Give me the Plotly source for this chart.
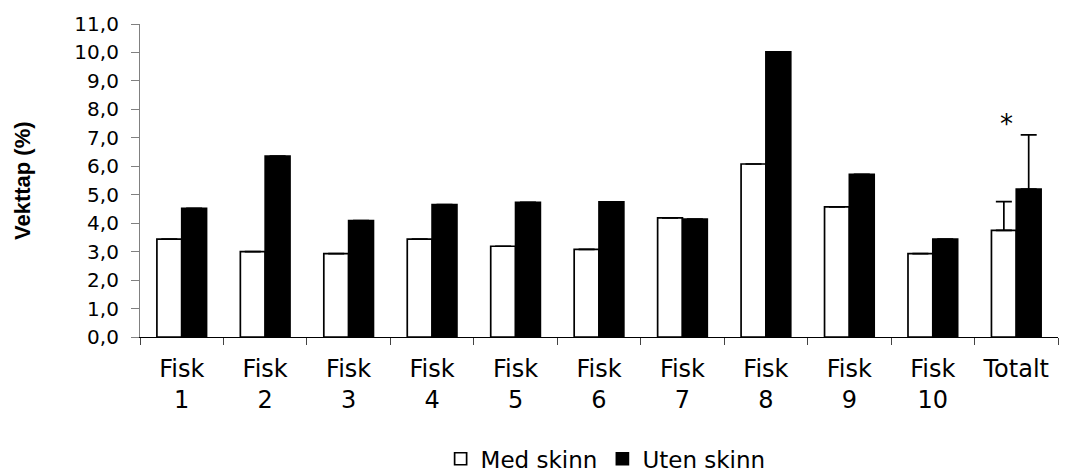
import plotly.graph_objects as go

# Weight loss per fish, with and without skin
categories = ["Fisk 1", "Fisk 2", "Fisk 3", "Fisk 4", "Fisk 5", "Fisk 6",
              "Fisk 7", "Fisk 8", "Fisk 9", "Fisk 10", "Totalt"]
tick_labels = ["Fisk<br>1", "Fisk<br>2", "Fisk<br>3", "Fisk<br>4", "Fisk<br>5",
               "Fisk<br>6", "Fisk<br>7", "Fisk<br>8", "Fisk<br>9", "Fisk<br>10",
               "Totalt"]
med_skinn = [3.44, 3.00, 2.93, 3.44, 3.19, 3.08, 4.19, 6.08, 4.57, 2.93, 3.75]
uten_skinn = [4.52, 6.36, 4.09, 4.65, 4.73, 4.75, 4.14, 10.02, 5.72, 3.44, 5.20]
# standard deviation, only shown for the total
med_sd = [None] * 10 + [1.01]
uten_sd = [None] * 10 + [1.90]
low_sd = [None] * 10 + [0]

FONT = "DejaVu Sans"

fig = go.Figure()
fig.add_trace(go.Bar(
    x=categories, y=med_skinn, name="Med skinn",
    marker=dict(color="white", line=dict(color="black", width=1.7)),
    error_y=dict(type="data", symmetric=False, array=med_sd, arrayminus=low_sd,
                 color="black", thickness=1.7, width=8),
))
fig.add_trace(go.Bar(
    x=categories, y=uten_skinn, name="Uten skinn",
    marker=dict(color="black", line=dict(color="black", width=1.7)),
    error_y=dict(type="data", symmetric=False, array=uten_sd, arrayminus=low_sd,
                 color="black", thickness=1.7, width=8),
))

fig.add_annotation(x="Totalt", y=7.5, text="*", showarrow=False, xshift=-10,
                   font=dict(family=FONT, size=26, color="black"))
fig.add_annotation(xref="paper", yref="paper", x=-0.128, y=0.5,
                   text="<b>Vekttap (%)</b>", textangle=-90, showarrow=False,
                   xanchor="center", yanchor="middle",
                   font=dict(family="Liberation Sans", size=22, color="black"))

fig.update_layout(
    width=1070, height=472,
    margin=dict(l=140, r=12, t=24, b=135),
    paper_bgcolor="white", plot_bgcolor="white",
    barmode="group", bargap=0.405, bargroupgap=0,
    separators=", ",
    font=dict(family=FONT, color="black"),
    legend=dict(orientation="h", xref="container", yref="container",
                x=0.566, xanchor="center", y=0.028, yanchor="middle",
                font=dict(family=FONT, size=23), itemwidth=30,
                traceorder="normal"),
)
fig.update_xaxes(
    type="category", range=[-0.5, 10.5],
    tickmode="array", tickvals=categories, ticktext=tick_labels,
    tickson="boundaries", ticks="outside", ticklen=7, tickcolor="#444",
    showline=True, linecolor="black", linewidth=1.2,
    showgrid=False, tickfont=dict(family=FONT, size=24),
    ticklabelstandoff=10,
)
fig.update_yaxes(
    range=[0, 11], dtick=1, tick0=0, tickformat=".1f",
    ticks="outside", ticklen=8, tickcolor="#808080",
    showline=True, linecolor="#808080", linewidth=1.2,
    showgrid=False, zeroline=False, tickfont=dict(family=FONT, size=20),
    ticklabelstandoff=8,
)

fig.write_html("out.html")
